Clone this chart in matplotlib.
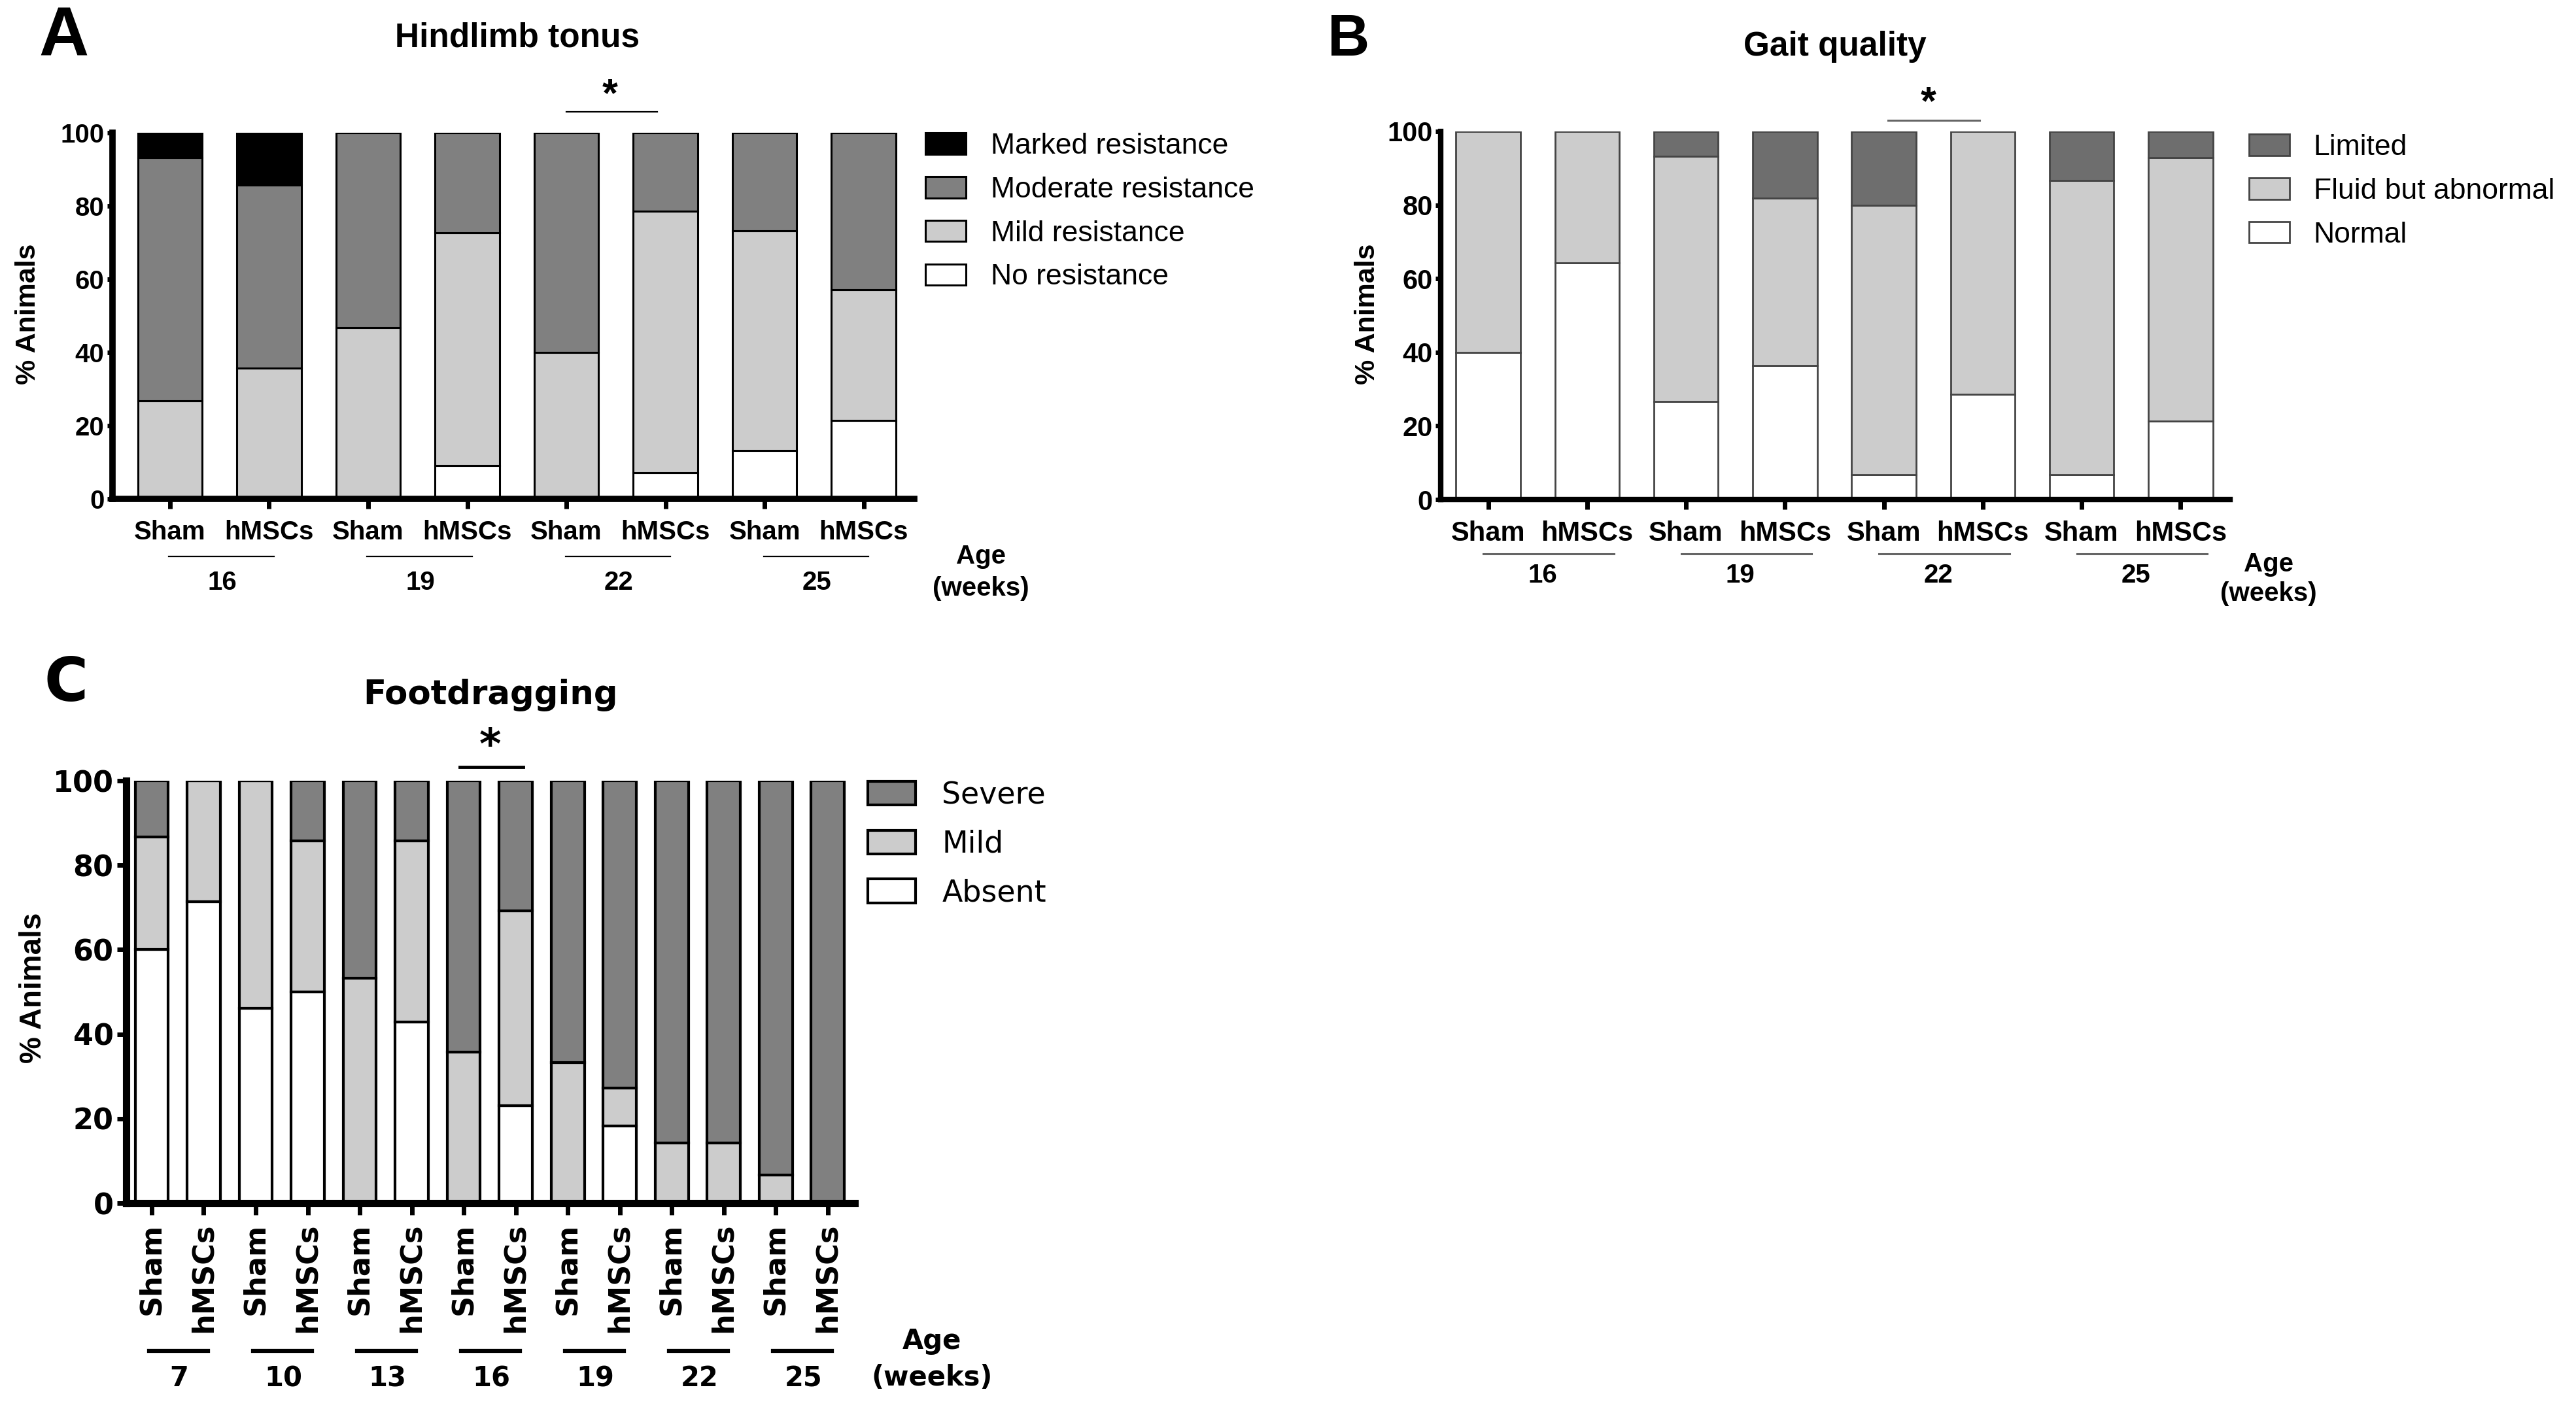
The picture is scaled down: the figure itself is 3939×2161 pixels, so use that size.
import numpy as np
import matplotlib
matplotlib.use("Agg")
import matplotlib.pyplot as plt

W, H = 3939, 2161

treat = ["Sham", "hMSCs"]
ages_ab = ["16", "19", "22", "25"]
ages_c = ["7", "10", "13", "16", "19", "22", "25"]

# Hindlimb tonus (% animals), stacked bottom -> top
tonus_none = [0, 0, 0, 9.1, 0, 7.1, 13.3, 21.4]
tonus_mild = [26.7, 35.7, 46.7, 63.6, 40.0, 71.5, 60.0, 35.7]
tonus_moderate = [66.6, 50.0, 53.3, 27.3, 60.0, 21.4, 26.7, 42.9]
tonus_marked = [6.7, 14.3, 0, 0, 0, 0, 0, 0]

# Gait quality
gait_normal = [40.0, 64.3, 26.7, 36.4, 6.7, 28.6, 6.7, 21.4]
gait_fluid = [60.0, 35.7, 66.6, 45.4, 73.3, 71.4, 80.0, 71.5]
gait_limited = [0, 0, 6.7, 18.2, 20.0, 0, 13.3, 7.1]

# Footdragging
drag_absent = [60.0, 71.4, 46.2, 50.0, 0, 42.9, 0, 23.1, 0, 18.2, 0, 0, 0, 0]
drag_mild = [26.7, 28.6, 53.8, 35.7, 53.3, 42.8, 35.7, 46.1, 33.3, 9.1, 14.3, 14.3, 6.7, 0]
drag_severe = [13.3, 0, 0, 14.3, 46.7, 14.3, 64.3, 30.8, 66.7, 72.7, 85.7, 85.7, 93.3, 100]

plt.rcParams['font.family'] = ['Liberation Sans', 'DejaVu Sans']

fig = plt.figure(figsize=(W / 100, H / 100), dpi=100)


def axes_px(x0, x1, y0, y1):
    return fig.add_axes([x0 / W, 1 - y1 / H, (x1 - x0) / W, (y1 - y0) / H])


def ftext(px, py, s, **kw):
    kw.setdefault('ha', 'center')
    kw.setdefault('va', 'center')
    fig.text(px / W, 1 - py / H, s, **kw)


def stacked(ax, layers, colors, labels, width, ec, lw):
    x = np.arange(len(layers[0]))
    bottom = np.zeros(len(x))
    handles = []
    for vals, c, lab in zip(layers, colors, labels):
        b = ax.bar(x, vals, width, bottom=bottom, color=c, edgecolor=ec,
                   linewidth=lw, label=lab, zorder=2)
        handles.append(b)
        bottom += np.array(vals)
    return handles


def style(ax, n, xlim, spw, fs, fam, rot=0):
    for s in ['top', 'right']:
        ax.spines[s].set_visible(False)
    for s in ['left', 'bottom']:
        ax.spines[s].set_linewidth(spw)
    ax.set_xlim(*xlim)
    ax.set_ylim(0, 100)
    ax.set_yticks([0, 20, 40, 60, 80, 100])
    ax.set_xticks(np.arange(n))
    ax.set_xticklabels(treat * (n // 2), rotation=rot,
                       fontweight='bold', fontsize=fs, family=fam)
    for lab in ax.get_yticklabels():
        lab.set_fontweight('bold')
        lab.set_fontsize(fs)
        lab.set_family(fam)


# ---------------- A: Hindlimb tonus ----------------
axA = axes_px(172, 1398, 203, 763)
hA = stacked(axA, [tonus_none, tonus_mild, tonus_moderate, tonus_marked],
             ['white', '#cccccc', '#808080', 'black'],
             ['No resistance', 'Mild resistance', 'Moderate resistance', 'Marked resistance'],
             0.65, 'black', 2.2)
style(axA, 8, (-0.58, 7.51), 7, 29, ['Liberation Sans'])
axA.tick_params(axis='x', length=11, width=5, pad=12)
axA.tick_params(axis='y', length=6, width=5, pad=3)
tr = axA.get_xaxis_transform()
for i, a in enumerate(ages_ab):
    axA.plot([2 * i - 0.01, 2 * i + 1.05], [-0.158, -0.158], color='black', lw=1.6,
             transform=tr, clip_on=False)
    axA.text(2 * i + 0.53, -0.228, a, transform=tr, ha='center', va='center',
             fontsize=29, fontweight='bold')
axA.text(8.18, -0.158, 'Age', transform=tr, ha='center', va='center', fontsize=29, fontweight='bold')
axA.text(8.18, -0.244, '(weeks)', transform=tr, ha='center', va='center', fontsize=29, fontweight='bold')
axA.plot([4.0, 4.92], [1.058, 1.058], color='black', lw=1.6, transform=tr, clip_on=False)
axA.text(4.44, 1.10, '*', transform=tr, ha='center', va='center', fontsize=44, fontweight='bold')
axA.legend(handles=hA[::-1], loc='upper left', bbox_to_anchor=(1415 / W, 1 - 203 / H),
           bbox_transform=fig.transFigure, frameon=False, fontsize=32,
           handlelength=1.4, handleheight=0.75, handletextpad=0.84,
           labelspacing=0.58, borderpad=0, borderaxespad=0)
ftext(791, 58, 'Hindlimb tonus', fontsize=37, fontweight='bold')
ftext(97, 58, 'A', fontsize=76, fontweight='bold')
ftext(43, 480, '% Animals', rotation=90, fontsize=31, fontweight='bold')

# ---------------- B: Gait quality ----------------
axB = axes_px(2203, 3410, 201, 764)
hB = stacked(axB, [gait_normal, gait_fluid, gait_limited],
             ['white', '#cccccc', '#6e6e6e'],
             ['Normal', 'Fluid but abnormal', 'Limited'],
             0.65, '#444444', 2.0)
style(axB, 8, (-0.48, 7.5), 6, 30, ['Liberation Sans'])
axB.tick_params(axis='x', length=11, width=5, pad=12)
axB.tick_params(axis='y', length=6, width=5, pad=3)
tr = axB.get_xaxis_transform()
for i, a in enumerate(ages_ab):
    axB.plot([2 * i - 0.05, 2 * i + 1.27], [-0.147, -0.147], color='#666666', lw=2.2,
             transform=tr, clip_on=False)
    axB.text(2 * i + 0.55, -0.206, a, transform=tr, ha='center', va='center',
             fontsize=29, fontweight='bold')
axB.text(7.89, -0.176, 'Age', transform=tr, ha='center', va='center', fontsize=29, fontweight='bold')
axB.text(7.89, -0.256, '(weeks)', transform=tr, ha='center', va='center', fontsize=29, fontweight='bold')
axB.plot([4.04, 4.97], [1.03, 1.03], color='#666666', lw=2.2, transform=tr, clip_on=False)
axB.text(4.45, 1.075, '*', transform=tr, ha='center', va='center', fontsize=44, fontweight='bold')
axB.legend(handles=hB[::-1], loc='upper left', bbox_to_anchor=(3439 / W, 1 - 205 / H),
           bbox_transform=fig.transFigure, frameon=False, fontsize=32,
           handlelength=1.4, handleheight=0.75, handletextpad=0.82,
           labelspacing=0.58, borderpad=0, borderaxespad=0)
ftext(2806, 72, 'Gait quality', fontsize=37, fontweight='bold')
ftext(2062, 62, 'B', fontsize=64, fontweight='bold')
ftext(2091, 480, '% Animals', rotation=90, fontsize=31, fontweight='bold')

# ---------------- C: Footdragging ----------------
axC = axes_px(193, 1307, 1194, 1840)
hC = stacked(axC, [drag_absent, drag_mild, drag_severe],
             ['white', '#cccccc', '#808080'],
             ['Absent', 'Mild', 'Severe'],
             0.64, 'black', 3.0)
style(axC, 14, (-0.49, 13.52), 8, 32, ['DejaVu Sans'], rot=90)
axC.tick_params(axis='x', length=13, width=5, pad=9)
axC.tick_params(axis='y', length=10, width=5, pad=4)
for lab in axC.get_xticklabels():
    lab.set_verticalalignment('top')
tr = axC.get_xaxis_transform()
for i, a in enumerate(ages_c):
    axC.plot([2 * i - 0.05, 2 * i + 1.08], [-0.35, -0.35], color='black', lw=4.5,
             transform=tr, clip_on=False)
    axC.text(2 * i + 0.53, -0.415, a, transform=tr, ha='center', va='center',
             fontsize=30, fontweight='bold', family='DejaVu Sans')
axC.text(15.0, -0.327, 'Age', transform=tr, ha='center', va='center', fontsize=30,
         fontweight='bold', family='DejaVu Sans')
axC.text(15.0, -0.413, '(weeks)', transform=tr, ha='center', va='center', fontsize=30,
         fontweight='bold', family='DejaVu Sans')
axC.plot([5.93, 7.14], [1.0325, 1.0325], color='black', lw=3.5, transform=tr, clip_on=False)
axC.text(6.51, 1.08, '*', transform=tr, ha='center', va='center', fontsize=46,
         fontweight='bold', family='DejaVu Sans')
axC.legend(handles=hC[::-1], loc='upper left', bbox_to_anchor=(1327 / W, 1 - 1194 / H),
           bbox_transform=fig.transFigure, frameon=False,
           prop={'family': 'DejaVu Sans', 'size': 33},
           handlelength=1.6, handleheight=0.85, handletextpad=0.87,
           labelspacing=0.65, borderpad=0, borderaxespad=0)
ftext(750, 1063, 'Footdragging', fontsize=37, fontweight='bold', family='DejaVu Sans')
ftext(101, 1046, 'C', fontsize=66, fontweight='bold', family='DejaVu Sans')
ftext(51, 1511, '% Animals', rotation=90, fontsize=33, fontweight='bold')

fig.savefig('out.png', dpi=100, facecolor='white')
